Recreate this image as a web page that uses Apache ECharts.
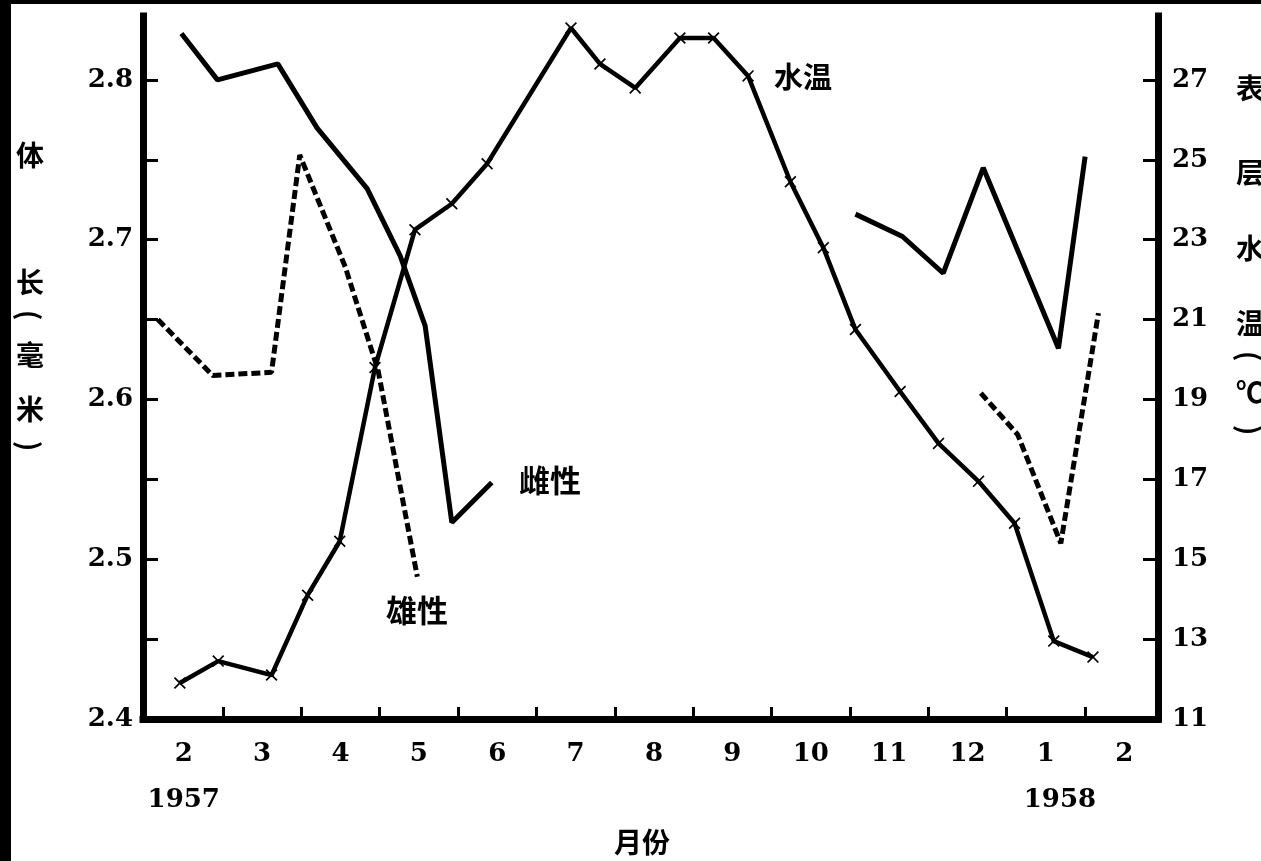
<!DOCTYPE html>
<html>
<head>
<meta charset="utf-8">
<script src="https://cdn.jsdelivr.net/npm/echarts@6/dist/echarts.min.js"></script>
<style>
html,body{margin:0;padding:0;background:#fff;}
#chart{width:1261px;height:861px;}
</style>
</head>
<body>
<div id="chart"></div>
<script>
// ---- data (x = month index: 2 = Feb 1957 ... 13 = Jan 1958, 14 = Feb 1958) ----
const monthTicks = [2, 3, 4, 5, 6, 7, 8, 9, 10, 11, 12, 13, 14];
const monthNames = ['2', '3', '4', '5', '6', '7', '8', '9', '10', '11', '12', '1', '2'];
const halfMonthTicks = [2.5, 3.5, 4.5, 5.5, 6.5, 7.5, 8.5, 9.5, 10.5, 11.5, 12.5, 13.5];
const lengthLabels = [2.4, 2.5, 2.6, 2.7, 2.8];
const lengthTicks = [2.45, 2.5, 2.55, 2.6, 2.65, 2.7, 2.75, 2.8];
const tempLabels = [11, 13, 15, 17, 19, 21, 23, 25, 27];
const tempTicks = [13, 15, 17, 19, 21, 23, 25, 27];

// surface water temperature (°C)
const waterTemp = [
  [1.95, 11.9], [2.44, 12.45], [3.12, 12.1], [3.58, 14.1], [3.99, 15.45],
  [4.44, 19.8], [4.95, 23.25], [5.42, 23.9], [5.87, 24.9], [6.94, 28.3],
  [7.31, 27.4], [7.76, 26.8], [8.33, 28.05], [8.76, 28.05], [9.2, 27.1],
  [9.74, 24.45], [10.16, 22.8], [10.57, 20.75], [11.14, 19.2], [11.63, 17.9],
  [12.14, 16.95], [12.6, 15.9], [13.1, 12.95], [13.6, 12.55]
];
// female body length (mm)
const femaleSpring = [
  [1.97, 2.829], [2.43, 2.80], [3.2, 2.81], [3.7, 2.77], [4.34, 2.732],
  [4.76, 2.69], [5.08, 2.646], [5.42, 2.523], [5.93, 2.548]
];
const femaleWinter = [
  [10.57, 2.716], [11.17, 2.702], [11.69, 2.679], [12.2, 2.745], [13.16, 2.632], [13.5, 2.752]
];
// male body length (mm)
const maleSpring = [
  [1.67, 2.65], [2.37, 2.615], [3.12, 2.617], [3.48, 2.753], [4.06, 2.683],
  [4.48, 2.618], [4.98, 2.489]
];
const maleWinter = [
  [12.17, 2.604], [12.64, 2.578], [13.19, 2.51], [13.67, 2.654]
];

const leftTitle = ['体', '长', '(', '毫', '米', ')'];
const rightTitle = ['表', '层', '水', '温', '(', '℃', ')'];
const xTitle = '月份';
const years = ['1957', '1958'];
const seriesNames = ['水温', '雌性', '雄性'];

// ---- styles ----
const BLACK = '#000';
const numFont = 'DejaVu Serif';
const cjkFont = '"Noto Sans CJK SC"';
const crossSymbol = 'path://M1,0 L5,4 L9,0 L10,1 L6,5 L10,9 L9,10 L5,6 L1,10 L0,9 L4,5 L0,1 Z';

const chart = echarts.init(document.getElementById('chart'));

function monthLabel(v) {
  const i = monthTicks.indexOf(Math.round(v));
  const name = monthNames[i];
  if (i === 0) return '{m|' + name + '}\n{y|' + years[0] + '}';
  if (i === 11) return '{m|' + name + '}\n{z|' + years[1] + '}';
  return '{m|' + name + '}';
}

const numText = { fontFamily: numFont, fontWeight: 'bold', fontSize: 26, color: BLACK };

const graphics = [
  { type: 'rect', shape: { x: 0, y: 0, width: 11, height: 861 }, style: { fill: '#000' }, z: 100 },
  { type: 'rect', shape: { x: 0, y: 0, width: 1261, height: 4 }, style: { fill: '#000' }, z: 100 }
];
function addText(text, x, y, size, align) {
  const paren = (text === '(' || text === ')');
  graphics.push({
    type: 'text', z: 50, x: x, y: y,
    rotation: paren ? -Math.PI / 2 : 0,
    style: { text: text, x: 0, y: 0, fill: BLACK, align: paren ? 'center' : (align || 'center'), verticalAlign: 'middle',
      font: 'bold ' + (size || 28) + 'px ' + cjkFont }
  });
}
const leftY = [155, 282, 315, 355, 409, 446];
leftTitle.forEach((c, i) => addText(c, 30, leftY[i], 28));
const rightY = [88, 172, 248, 323, 356, 392, 430];
rightTitle.forEach((c, i) => addText(c, (c === '(' || c === ')') ? 1250 : 1236, rightY[i], 28, 'left'));
addText(xTitle, 642, 842, 28);
addText(seriesNames[0], 803, 77, 29);
addText(seriesNames[1], 550, 480, 31);
addText(seriesNames[2], 417, 610, 31);

const option = {
  backgroundColor: '#fff',
  animation: false,
  graphic: graphics,
  grid: { left: 143, right: 103, top: 16, bottom: 142, outerBoundsMode: 'none' },
  xAxis: {
    type: 'value', min: 1.48, max: 14.43,
    splitLine: { show: false },
    axisLine: { show: true, onZero: false, lineStyle: { color: BLACK, width: 7, cap: 'square' } },
    axisTick: { show: true, inside: true, length: 12, customValues: halfMonthTicks, lineStyle: { color: BLACK, width: 3 } },
    axisLabel: {
      customValues: monthTicks, margin: 12, formatter: monthLabel,
      rich: {
        m: Object.assign({ lineHeight: 46 }, numText),
        y: Object.assign({ lineHeight: 46 }, numText),
        z: Object.assign({ lineHeight: 46, padding: [0, 0, 0, 28] }, numText)
      }
    }
  },
  yAxis: [
    {
      type: 'value', min: 2.4, max: 2.84, position: 'left',
      splitLine: { show: false },
      axisLine: { show: true, onZero: false, lineStyle: { color: BLACK, width: 7, cap: 'square' } },
      axisTick: { show: true, inside: true, length: 15, customValues: lengthTicks, lineStyle: { color: BLACK, width: 3 } },
      axisLabel: Object.assign({ customValues: lengthLabels, margin: 10, formatter: v => v.toFixed(1) }, numText)
    },
    {
      type: 'value', min: 11, max: 28.6, position: 'right',
      splitLine: { show: false },
      axisLine: { show: true, onZero: false, lineStyle: { color: BLACK, width: 7, cap: 'square' } },
      axisTick: { show: true, inside: true, length: 15, customValues: tempTicks, lineStyle: { color: BLACK, width: 3 } },
      axisLabel: Object.assign({ customValues: tempLabels, margin: 14, formatter: v => String(v) }, numText)
    }
  ],
  series: [
    {
      name: seriesNames[0], type: 'line', yAxisIndex: 1, data: waterTemp,
      symbol: crossSymbol, symbolSize: 12, showSymbol: true,
      itemStyle: { color: BLACK },
      lineStyle: { color: BLACK, width: 4.5 }
    },
    {
      name: seriesNames[1], type: 'line', yAxisIndex: 0, data: femaleSpring,
      showSymbol: false, lineStyle: { color: BLACK, width: 5 }
    },
    {
      name: seriesNames[1] + '2', type: 'line', yAxisIndex: 0, data: femaleWinter,
      showSymbol: false, lineStyle: { color: BLACK, width: 5 }
    },
    {
      name: seriesNames[2], type: 'line', yAxisIndex: 0, data: maleSpring,
      showSymbol: false, lineStyle: { color: BLACK, width: 5, type: [9, 4] }
    },
    {
      name: seriesNames[2] + '2', type: 'line', yAxisIndex: 0, data: maleWinter,
      showSymbol: false, lineStyle: { color: BLACK, width: 5, type: [9, 4] }
    }
  ]
};
chart.setOption(option);
</script>
</body>
</html>
